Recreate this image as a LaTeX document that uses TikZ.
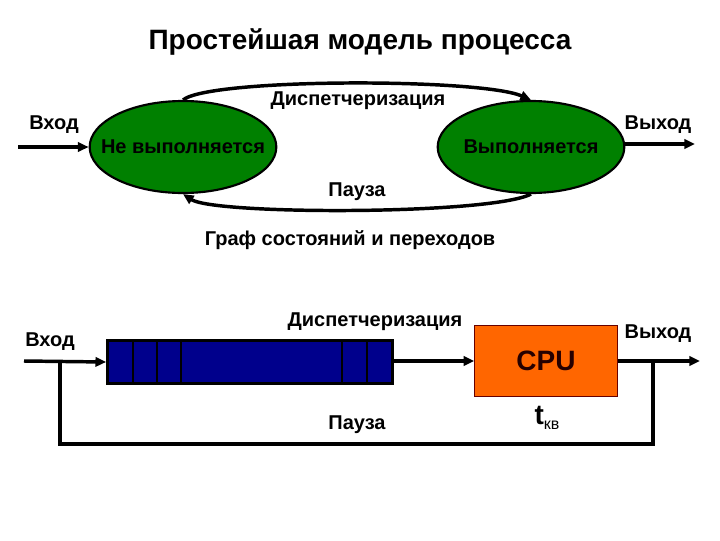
\documentclass[tikz,border=0pt]{standalone}
\usepackage{fontspec}
\setmainfont{Liberation Sans}
\usetikzlibrary{arrows.meta,shapes.geometric}
\definecolor{stategreen}{RGB}{0,128,0}
\definecolor{queueblue}{RGB}{0,0,140}
\definecolor{cpuorange}{RGB}{255,102,0}
\tikzset{
  lbl/.style={font=\bfseries\fontsize{15}{17}\selectfont, inner sep=0pt},
  state/.style={ellipse, draw=black, line width=1.6pt, fill=stategreen, minimum width=140pt, minimum height=69pt, inner sep=0pt},
  statetext/.style={font=\bfseries\fontsize{15}{17}\selectfont, text=black, inner sep=0pt},
  conn/.style={line width=2.6pt, -{Triangle[length=8pt,width=7pt]}},
  plain/.style={line width=2.6pt},
}
\begin{document}
\begin{tikzpicture}[x=0.75pt,y=-0.75pt]
\useasboundingbox (0,0) rectangle (720,540);
% title
\node[font=\bfseries\fontsize{21}{25}\selectfont, inner sep=0pt] (title) at (360,42) {Простейшая модель процесса};
% state graph
\node[state] (L) at (183,147) {};
\node[statetext] (Lt) at (L.center) {Не выполняется};
\node[state] (R) at (531,147) {};
\node[statetext] (Rt) at (R.center) {Выполняется};
\coordinate (inA) at (18,147);
\coordinate (outA) at (695,144);
\draw[conn] (inA) -- (L.west);
\draw[conn] (R.east |- outA) -- (outA);
\draw[conn] (L.north) .. controls (210,78) and (480,78) .. (R.north);
\draw[conn] (R.south) .. controls (490,215) and (215,215) .. (L.south);
\node[lbl] (inlA) at (54,125) {Вход};
\node[lbl] (outlA) at (658,125) {Выход};
\node[lbl] (disA) at (358,101) {Диспетчеризация};
\node[lbl] (pauA) at (357,192) {Пауза};
\node[lbl] (graph) at (350,240) {Граф состояний и переходов};
% queue model
\node[draw=black, line width=1.8pt, fill=queueblue, minimum width=214pt, minimum height=32pt, inner sep=0pt] (Q) at (250,362) {};
\foreach \xx in {133,157,181,342,367} \draw[line width=1.8pt] (\xx,341) -- (\xx,383);
\node[draw=black!60!red, line width=0.6pt, fill=cpuorange, minimum width=107pt, minimum height=53pt, inner sep=0pt, font=\fontsize{21}{25}\selectfont, text=black!85!red] (CPU) at (546,361) {\textbf{CPU}};
\coordinate (inB) at (24,361);
\coordinate (outB) at (700,361);
\coordinate (fbR) at (653,361);
\coordinate (fbL) at (60,361);
\draw[conn] (inB) -- (Q.west);
\draw[conn] (Q.east |- CPU.west) -- (CPU.west);
\draw[conn] (CPU.east) -- (outB);
\draw[plain] (fbR) -- (653,444) -- (60,444) -- (fbL);
\node[lbl] (inlB) at (50,342) {Вход};
\node[lbl] (outlB) at (658,334) {Выход};
\node[lbl] (disB) at (375,322) {Диспетчеризация};
\node[lbl] (pauB) at (357,425) {Пауза};
\node[inner sep=0pt, font=\bfseries\fontsize{21}{25}\selectfont] (tkv) at (547,418) {t\raisebox{-0.35ex}{\fontsize{12}{14}\selectfont\mdseries кв}};
\end{tikzpicture}
\end{document}
